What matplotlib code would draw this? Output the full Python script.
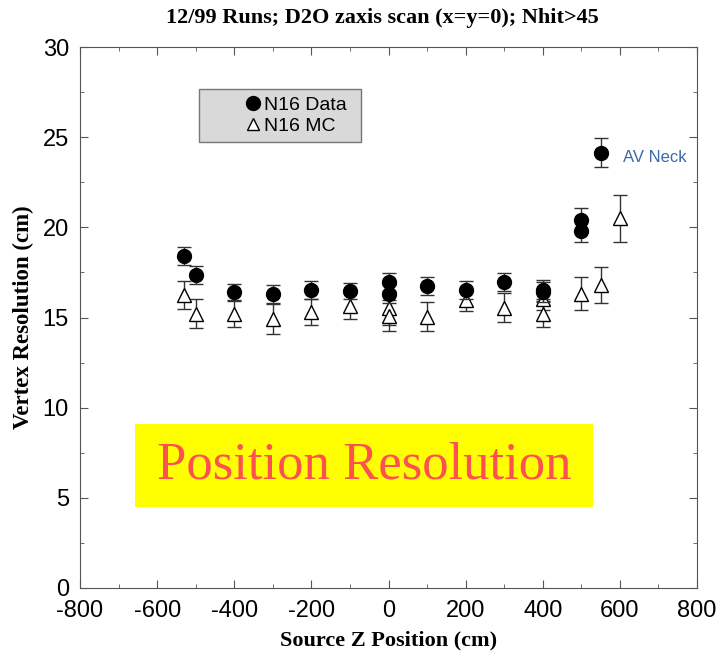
import numpy as np
import matplotlib
matplotlib.use("Agg")
import matplotlib.pyplot as plt
from matplotlib.patches import Rectangle
from matplotlib.lines import Line2D
from matplotlib.ticker import MultipleLocator

plt.rcParams["axes.unicode_minus"] = False

# N16 data (filled circles)
z_data = [-530, -500, -400, -300, -200, -100, 0, 0, 100, 200, 300, 400, 400, 500, 500, 550]
res_data = [18.4, 17.35, 16.4, 16.3, 16.55, 16.45, 16.95, 16.3, 16.75, 16.5, 16.95, 16.55, 16.4, 20.4, 19.8, 24.15]
err_data = [0.5, 0.5, 0.45, 0.5, 0.5, 0.45, 0.5, 0.5, 0.5, 0.5, 0.5, 0.55, 0.55, 0.65, 0.6, 0.8]

# N16 Monte Carlo (open triangles)
z_mc = [-530, -500, -400, -300, -200, -100, 0, 0, 100, 200, 300, 400, 400, 500, 550, 600]
res_mc = [16.25, 15.2, 15.2, 14.93, 15.3, 15.65, 15.5, 15.1, 15.05, 15.95, 15.55, 16.0, 15.2, 16.32, 16.8, 20.5]
err_mc = [0.8, 0.8, 0.72, 0.83, 0.7, 0.73, 0.9, 0.85, 0.8, 0.6, 0.8, 0.6, 0.7, 0.9, 1.0, 1.3]

serif = "Liberation Serif"
sans = "Liberation Sans"

fig = plt.figure(figsize=(7.22, 6.55), dpi=100)
ax = fig.add_axes([0.1108, 0.1023, 0.8546, 0.8259])

ax.errorbar(z_mc, res_mc, yerr=err_mc, fmt="^", ms=10, mfc="white", mec="black",
            mew=1, ecolor="#333333", elinewidth=1, capsize=5, capthick=1, zorder=3)
ax.errorbar(z_data, res_data, yerr=err_data, fmt="o", ms=10, color="black",
            ecolor="#333333", elinewidth=1, capsize=5, capthick=1, zorder=4)

ax.set_xlim(-800, 800)
ax.set_ylim(0, 30)
ax.xaxis.set_major_locator(MultipleLocator(200))
ax.xaxis.set_minor_locator(MultipleLocator(100))
ax.yaxis.set_major_locator(MultipleLocator(5))
ax.yaxis.set_minor_locator(MultipleLocator(2.5))
ax.tick_params(which="both", direction="in", top=True, right=True, color="#555555")
ax.tick_params(which="major", length=6, labelsize=17)
ax.tick_params(axis="x", which="major", pad=9)
ax.tick_params(axis="y", which="major", pad=8)
ax.tick_params(which="minor", length=3)
for lab in ax.get_xticklabels() + ax.get_yticklabels():
    lab.set_fontfamily(sans)
for sp in ax.spines.values():
    sp.set_color("#555555")

ax.set_xlabel("Source Z Position (cm)", fontsize=16, fontweight="bold", family=serif, labelpad=6)
ax.set_ylabel("Vertex Resolution (cm)", fontsize=16.5, fontweight="bold", family=serif, labelpad=6)
fig.text(0.53, 0.973, "12/99 Runs; D2O zaxis scan (x=y=0); Nhit>45", ha="center", va="center",
         fontsize=16, fontweight="bold", family=serif)

ax.text(608, 23.9, "AV Neck", color="#3a69a8", fontsize=12, family=sans, va="center")

# legend box
ax.add_patch(Rectangle((0.193, 0.824), 0.262, 0.098, transform=ax.transAxes,
                       facecolor="#d9d9d9", edgecolor="#777777", lw=1, zorder=5))
handles = [Line2D([], [], ls="none", marker="o", ms=10, color="black"),
           Line2D([], [], ls="none", marker="^", ms=9, mfc="white", mec="black", mew=1)]
leg = ax.legend(handles, ["N16 Data", "N16 MC"], loc="center right",
                bbox_to_anchor=(0.455, 0.873), frameon=False,
                prop={"family": sans, "size": 14}, handlelength=0.6,
                handletextpad=0.3, labelspacing=0.15, borderpad=0.2)
leg.set_zorder(6)

# highlight box
ax.add_patch(Rectangle((0.089, 0.150), 0.742, 0.153, transform=ax.transAxes,
                       facecolor="#ffff00", edgecolor="none", zorder=5))
ax.text(0.46, 0.226, "Position Resolution", transform=ax.transAxes, ha="center",
        va="center", fontsize=38, color="#ff5050", family=serif, zorder=6)

fig.savefig("out.png", dpi=100)
